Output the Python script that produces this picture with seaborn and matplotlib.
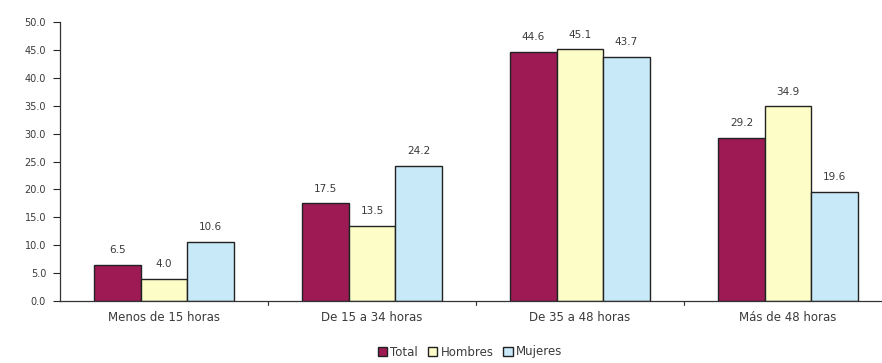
import matplotlib
matplotlib.use("Agg")
import matplotlib.pyplot as plt
import seaborn as sns
import pandas as pd
from matplotlib.patches import Patch

categories = ["Menos de 15 horas", "De 15 a 34 horas", "De 35 a 48 horas", "Más de 48 horas"]
series = ["Total", "Hombres", "Mujeres"]
total = [6.5, 17.5, 44.6, 29.2]
hombres = [4.0, 13.5, 45.1, 34.9]
mujeres = [10.6, 24.2, 43.7, 19.6]
y_ticks = [0, 5, 10, 15, 20, 25, 30, 35, 40, 45, 50]

colors = {"Total": "#9e1a55", "Hombres": "#fdfdc8", "Mujeres": "#c8e9f7"}
text_color = "#3a3a3a"

df = pd.DataFrame({
    "cat": categories * 3,
    "serie": ["Total"] * 4 + ["Hombres"] * 4 + ["Mujeres"] * 4,
    "val": total + hombres + mujeres,
})

sns.set_theme(style="white")
plt.rcParams["font.family"] = ["DejaVu Sans"]

fig = plt.figure(figsize=(8.82, 3.63), dpi=100)
ax = fig.add_axes([60 / 882, 1 - 301 / 363, 832 / 882, 279 / 363])

sns.barplot(data=df, x="cat", y="val", hue="serie", order=categories,
            hue_order=series, palette=colors, saturation=1, width=0.67, ax=ax,
            edgecolor="#222222", linewidth=1.0, legend=False)

for cont in ax.containers:
    ax.bar_label(cont, fmt="%.1f", padding=7, fontsize=7.5, color=text_color)

ax.set_ylim(0, 50)
ax.set_xlim(-0.5, 3.5)
ax.set_yticks(y_ticks)
ax.set_yticklabels([f"{v:.1f}" for v in y_ticks], fontsize=7, color=text_color)
ax.set_xticks(range(len(categories)))
ax.set_xticklabels(categories, fontsize=8.5, color=text_color)
ax.tick_params(axis="x", length=0, pad=7)
ax.tick_params(axis="y", length=5, width=0.8, direction="out", left=True, pad=5)
for b in [0.5, 1.5, 2.5]:
    ax.plot([b, b], [0, -0.014], transform=ax.get_xaxis_transform(),
            color="#333333", lw=0.8, clip_on=False)
ax.set_xlabel("")
ax.set_ylabel("")
for s in ["top", "right"]:
    ax.spines[s].set_visible(False)
for s in ["left", "bottom"]:
    ax.spines[s].set_color("#333333")
    ax.spines[s].set_linewidth(0.9)

handles = [Patch(facecolor=colors[s], edgecolor="#222222", label=s) for s in series]
fig.legend(handles=handles, loc="center", bbox_to_anchor=(470 / 882, 1 - 352 / 363),
           ncol=3, frameon=False, fontsize=8.5, handlelength=0.8, handleheight=0.8,
           handletextpad=0.3, columnspacing=0.8, labelcolor=text_color)

fig.savefig("out.png", dpi=100)
